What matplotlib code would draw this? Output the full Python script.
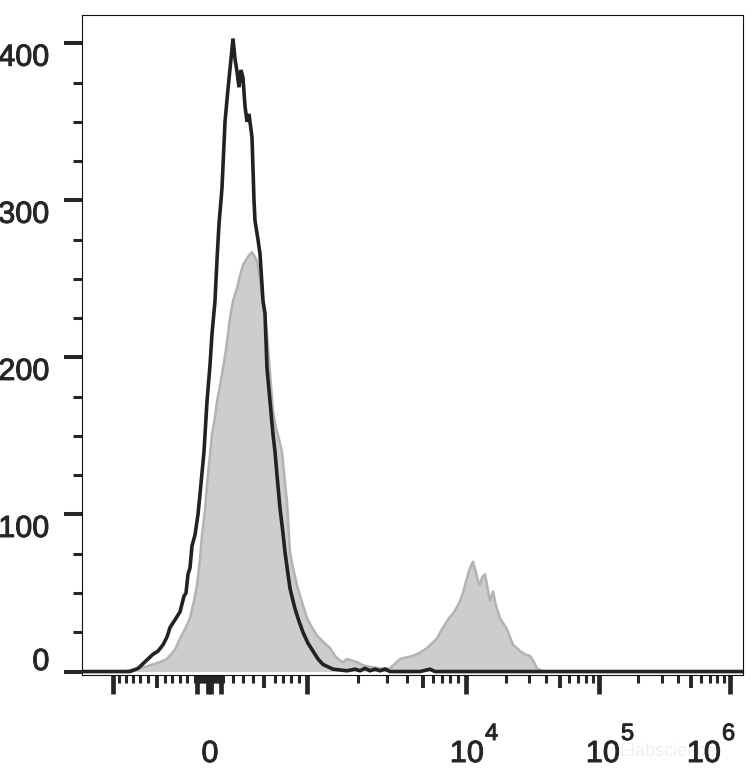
import matplotlib
matplotlib.use("Agg")
import matplotlib.pyplot as plt
import matplotlib.patheffects as pe
import numpy as np
from matplotlib.transforms import blended_transform_factory, ScaledTranslation

# ---- data (x in display channel units, y = cell count) ----
black_x = [82, 130, 138, 143, 148, 153, 158, 163, 167, 170, 175, 180, 184, 186, 188, 190, 192, 195,
           198, 200, 204, 207, 210, 212, 215, 217, 219, 221, 222, 225, 228, 231, 233, 235, 237, 239,
           241, 243, 245, 247, 249, 252, 254, 255, 258, 260, 263, 265, 267, 270, 273, 275, 277, 280,
           283, 285, 288, 290, 293, 295, 299, 303, 308, 313, 318, 323, 328, 333, 340, 347, 355, 360,
           365, 370, 375, 380, 385, 390, 420, 430, 435, 743]
black_y = [0, 0, 2, 5, 8, 11, 13, 17, 22, 28, 33, 38, 48, 50, 62, 66, 80, 87,
           100, 113, 140, 172, 195, 215, 236, 262, 285, 300, 308, 350, 371, 390, 403, 390, 382, 372,
           383, 378, 360, 350, 355, 340, 300, 287, 275, 266, 236, 228, 193, 172, 151, 140, 125, 104,
           88, 76, 62, 53, 45, 40, 32, 25, 18, 13, 8, 4.5, 3, 1.5, 1, 0.5, 1.5, 0.5,
           2, 0.5, 1.5, 0.5, 1.5, 0, 0, 1.5, 0, 0]

grey_x = [82, 125, 130, 140, 150, 160, 167, 175, 180, 185, 190, 194, 197, 200, 202, 205, 207, 210,
          212, 215, 217, 220, 223, 226, 228, 230, 233, 235, 237, 240, 243, 246, 249, 252, 255, 257,
          260, 263, 265, 267, 270, 273, 276, 279, 282, 285, 287, 290, 293, 297, 302, 307, 312, 317,
          323, 330, 335, 340, 343, 347, 352, 357, 363, 370, 380, 390, 395, 400, 406, 413, 420, 427,
          432, 437, 441, 445, 449, 453, 457, 460, 463, 465, 468, 470, 473, 476, 478, 480, 482, 485,
          487, 490, 493, 496, 500, 504, 507, 510, 513, 517, 520, 525, 530, 534, 537, 543, 743]
grey_y = [0, 0, 1, 2, 4, 6, 8, 14, 21, 27, 34, 45, 55, 72, 87, 103, 119, 138,
          151, 162, 172, 182, 193, 205, 215, 225, 236, 240, 244, 252, 259, 262, 265, 267, 264, 261,
          250, 234, 225, 215, 190, 166, 155, 148, 140, 120, 108, 76, 66, 55, 44, 34, 28, 23,
          19, 15, 10, 7, 6, 8, 7, 6, 4, 3, 2, 2, 5, 8, 9, 10, 12, 15,
          18, 21, 26, 30, 34, 37, 41, 45, 50, 55, 62, 66, 70, 63, 58, 55, 60, 62,
          55, 45, 51, 42, 34, 30, 27, 22, 17, 15, 13, 11, 10, 6, 2, 0, 0]

# ---- axis ticks (channel positions) ----
y_major = [0, 100, 200, 300, 400]
y_labels = ["0", "100", "200", "300", "400"]
x_long = [113, 197, 207.5, 210.5, 221, 307, 466, 599, 730]
x_medium = [157, 264, 423, 559.7, 690.6]
x_minor = ([119, 126, 133, 140, 148, 165, 172, 180, 187] + list(range(195, 224, 2)) +
           [233, 243, 253, 275, 283, 291, 299, 358, 387, 407, 433, 442, 450, 458] +
           [466 + 133 * np.log10(k) for k in (2, 3, 4, 6, 7, 8, 9)] +
           [599 + 131 * np.log10(k) for k in (2, 3, 4, 6, 7, 8, 9)])
x_label_pos = [210, 484, 620, 721]
x_label_base = ["0", "10", "10", "10"]
x_label_exp = ["", "4", "5", "6"]

# ---- figure ----
W, H, DPI = 756, 780, 100
fig = plt.figure(figsize=(W / DPI, H / DPI), dpi=DPI)
ax = fig.add_axes([82 / W, 1 - 675 / H, (743 - 82) / W, (675 - 15) / H])

ax.fill_between(grey_x, grey_y, 0, color="#cdcdcd", lw=0, zorder=2)
ax.plot(grey_x, grey_y, color="#b3b3b3", lw=1.8, zorder=3)
ax.plot(black_x, black_y, color="#222222", lw=2.6, zorder=4, solid_joinstyle="miter")

ax.set_xlim(82, 743)
ax.set_ylim(-2.2, 418)

for s in ax.spines.values():
    s.set_linewidth(0.8)
    s.set_color("#111111")

tick_col = "#262626"
# y ticks
ax.set_yticks(y_major)
ax.set_yticks(np.arange(0, 401, 25), minor=True)
ax.tick_params(axis="y", which="major", direction="out", length=13, width=2.9, color=tick_col, labelleft=False)
ax.tick_params(axis="y", which="minor", direction="out", length=6.5, width=2.2, color=tick_col)

# x ticks
ax.set_xticks(x_long)
ax.set_xticks(x_minor, minor=True)
ax.tick_params(axis="x", which="major", direction="out", length=13.5, width=3.4, color=tick_col, labelbottom=False)
ax.tick_params(axis="x", which="minor", direction="out", length=5.5, width=2.2, color=tick_col)
sec = ax.secondary_xaxis("bottom", functions=(lambda v: v, lambda v: v))
sec.set_xticks(x_medium)
sec.tick_params(axis="x", which="major", direction="out", length=9.5, width=2.8, color=tick_col, labelbottom=False)
sec.tick_params(axis="x", which="minor", length=0)
sec.spines["bottom"].set_visible(False)

heavy = [pe.withStroke(linewidth=0.7, foreground="#262626")]
font = dict(family=["Liberation Sans", "DejaVu Sans"], color="#262626", path_effects=heavy)

# y labels
ytr = blended_transform_factory(fig.transFigure, ax.transData)
for v, lab in zip(y_major, y_labels):
    dy = 1.5 if v == 0 else -22.5
    tr = ytr + ScaledTranslation(0, dy / DPI, fig.dpi_scale_trans)
    ax.text(49.5 / W, v, lab, transform=tr, ha="right", va="baseline", fontsize=22, **font)

# x labels
xtr = blended_transform_factory(ax.transData, fig.transFigure)
for xp, base, ex in zip(x_label_pos, x_label_base, x_label_exp):
    if ex == "":
        fig.text(xp, 1 - 762 / H, base, transform=xtr, ha="center", va="baseline", fontsize=22, **font)
    else:
        fig.text(xp, 1 - 762 / H, base, transform=xtr, ha="right", va="baseline", fontsize=22, **font)
        fig.text(xp + 1, 1 - 740 / H, ex, transform=xtr, ha="left", va="baseline", fontsize=17, **font)

# faint watermark
fig.text(668 / W, 1 - 752 / H, "Elabscience", ha="center", va="center", fontsize=13,
         color="#f0f0f0", family=["Liberation Sans", "DejaVu Sans"], zorder=0)

fig.savefig("out.png", dpi=DPI)
